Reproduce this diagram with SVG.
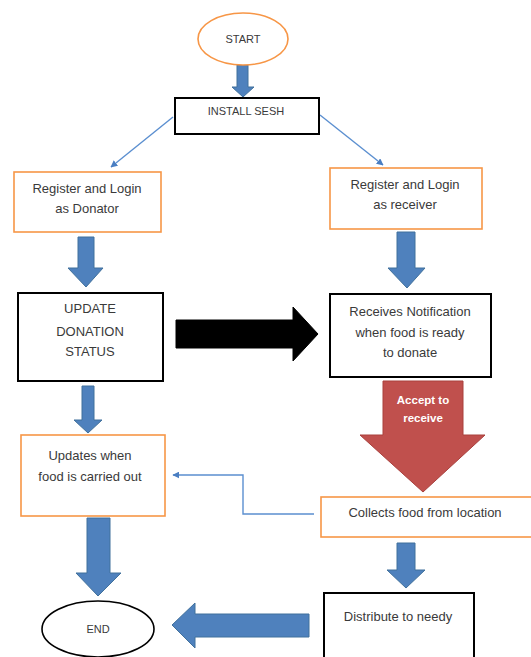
<svg xmlns="http://www.w3.org/2000/svg" width="531" height="657" viewBox="0 0 531 657">
  <defs>
    <style>
      .bg { fill: #ffffff; }
      .orange { fill: #ffffff; stroke: #F79646; stroke-width: 1.6; }
      .black { fill: #ffffff; stroke: #000000; stroke-width: 2; }
      .blue { fill: #4F81BD; stroke: #41719C; stroke-width: 1; }
      .dark { fill: #000000; stroke: #000000; stroke-width: 1; }
      .red { fill: #C0504D; stroke: #A9403D; stroke-width: 1; }
      .thin { fill: none; stroke: #5B8FD0; stroke-width: 1.4; }
      .t { font-family: "Liberation Sans", Arial, sans-serif; font-size: 13px; fill: #3a3a3a; text-anchor: middle; }
      .s { font-size: 11px; }
      .w { font-family: "Liberation Sans", Arial, sans-serif; font-size: 11.5px; font-weight: bold; fill: #ffffff; text-anchor: middle; }
    </style>
    <marker id="ah" viewBox="0 0 10 10" refX="9" refY="5" markerWidth="7" markerHeight="7" markerUnits="userSpaceOnUse" orient="auto">
      <path d="M0,0 L10,5 L0,10 z" fill="#4A7EC2"/>
    </marker>
  </defs>
  <rect class="bg" x="0" y="0" width="531" height="657"/>

  <g id="connectors">
    <path class="blue" d="M237,65 H248 V87 H254 L243,97 L232,87 H237 Z"/>
    <line class="thin" x1="173" y1="117" x2="111" y2="167" marker-end="url(#ah)"/>
    <line class="thin" x1="320" y1="115" x2="383" y2="165" marker-end="url(#ah)"/>
    <path class="blue" d="M78,237 H94 V268 H103 L86,287 L68,268 H78 Z"/>
    <path class="blue" d="M397,232 H415 V268 H425 L407,288 L388,268 H397 Z"/>
    <path class="dark" d="M176,320 H293 V307 L318,334 L293,361 V348 H176 Z"/>
    <path class="red" d="M383,381 H463 V435 H485 L423,492 L360,435 H383 Z"/>
    <path class="blue" d="M82,386 H94 V420 H102 L88,433 L74,420 H82 Z"/>
    <path class="thin" d="M314,514 H243 V475 H173" marker-end="url(#ah)"/>
    <path class="blue" d="M87,518 H110 V573 H121 L98,596 L76,573 H87 Z"/>
    <path class="blue" d="M397,543 H415 V570 H425 L406,588 L387,570 H397 Z"/>
    <path class="blue" d="M309,614 H195 V603 L172,625 L195,648 V637 H309 Z"/>
    <text class="w" x="423" y="404">Accept to</text>
    <text class="w" x="423" y="422">receive</text>
  </g>

  <g id="start">
    <ellipse class="orange" cx="243" cy="39" rx="45" ry="26"/>
    <text class="t s" x="243" y="43">START</text>
  </g>
  <g id="install">
    <rect class="black" x="175" y="98" width="144" height="36"/>
    <text class="t s" x="246" y="115">INSTALL SESH</text>
  </g>
  <g id="register-donator">
    <rect class="orange" x="14" y="172" width="147" height="60"/>
    <text class="t" x="87" y="193">Register and Login</text>
    <text class="t" x="87" y="213">as Donator</text>
  </g>
  <g id="register-receiver">
    <rect class="orange" x="330" y="168" width="152" height="61"/>
    <text class="t" x="405" y="189">Register and Login</text>
    <text class="t" x="405" y="209">as receiver</text>
  </g>
  <g id="update-status">
    <rect class="black" x="18" y="293" width="145" height="88"/>
    <text class="t" x="90" y="313">UPDATE</text>
    <text class="t" x="90" y="336">DONATION</text>
    <text class="t" x="90" y="356">STATUS</text>
  </g>
  <g id="receives-notification">
    <rect class="black" x="330" y="294" width="161" height="83"/>
    <text class="t" x="410" y="316">Receives Notification</text>
    <text class="t" x="410" y="337">when food is ready</text>
    <text class="t" x="410" y="357">to donate</text>
  </g>
  <g id="updates-carried">
    <rect class="orange" x="21" y="435" width="144" height="81"/>
    <text class="t" x="90" y="460">Updates when</text>
    <text class="t" x="90" y="481">food is carried out</text>
  </g>
  <g id="collects">
    <rect class="orange" x="321" y="497" width="215" height="40"/>
    <text class="t" x="425" y="517">Collects food from location</text>
  </g>
  <g id="distribute">
    <rect class="black" x="324" y="593" width="150" height="80"/>
    <text class="t" x="398" y="621">Distribute to needy</text>
  </g>
  <g id="end">
    <ellipse class="black" cx="98" cy="629" rx="56" ry="28" style="stroke-width:1.6"/>
    <text class="t s" x="98" y="633">END</text>
  </g>
</svg>
